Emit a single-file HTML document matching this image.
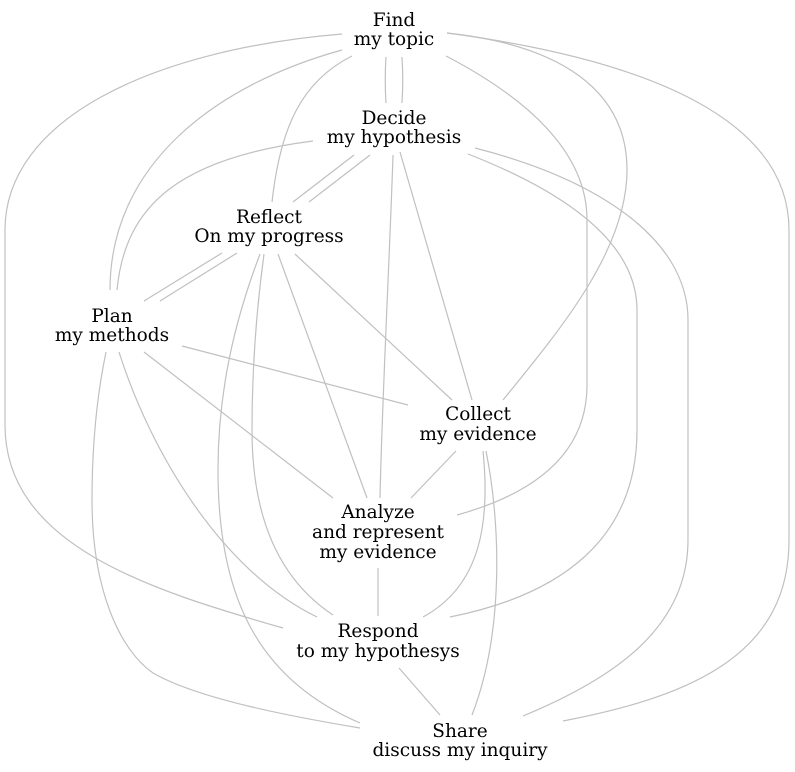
<!DOCTYPE html>
<html>
<head>
<meta charset="utf-8">
<style>
  html,body{margin:0;padding:0;background:#fff;}
  svg{display:block;}
  text{font-family:"DejaVu Serif","Liberation Serif",serif;font-size:18.5px;fill:#000;text-anchor:middle;}
  path{fill:none;stroke:#c0c0c0;stroke-width:1.2;}
</style>
</head>
<body>
<svg width="795" height="772" viewBox="0 0 795 772" xmlns="http://www.w3.org/2000/svg">
  <!-- Find edges -->
  <path d="M386,57 C385,72 385,88 386,103"/>
  <path d="M402,57 C403,72 403,88 402,103"/>
  <path d="M342,50 C215,85 110,165 110,290"/>
  <path d="M352,56 C300,82 280,130 272,202"/>
  <path d="M342,34 C150,50 5,120 5,230 L5,425 C5,545 150,590 283,628"/>
  <path d="M446,56 C540,105 587,160 587,220 L587,385 C587,450 540,492 457,515"/>
  <path d="M447,33 C560,45 627,90 627,170 C627,250 560,330 503,400"/>
  <path d="M447,33 C650,60 789,120 789,230 L789,540 C789,650 700,695 563,721"/>
  <!-- Decide edges -->
  <path d="M313,141 C180,158 125,205 117,290"/>
  <path d="M354,155 L293,202"/>
  <path d="M370,155 L309,202"/>
  <path d="M393,155 C390,250 382,400 380,498"/>
  <path d="M400,152 L472,400"/>
  <path d="M468,154 C560,190 637,240 637,310 L637,430 C637,540 560,595 450,617"/>
  <path d="M475,148 C600,180 688,240 688,320 L688,540 C688,630 610,680 523,716"/>
  <!-- Reflect edges -->
  <path d="M222,253 L144,301"/>
  <path d="M237,253 L160,301"/>
  <path d="M260,254 C235,320 218,390 218,470 C218,600 260,680 360,723"/>
  <path d="M264,254 C255,320 252,380 252,430 C252,520 280,580 333,615"/>
  <path d="M278,254 L367,498"/>
  <path d="M295,254 L452,400"/>
  <!-- Plan edges -->
  <path d="M182,346 L408,405"/>
  <path d="M144,352 L333,498"/>
  <path d="M119,352 C150,450 220,570 317,617"/>
  <path d="M106,352 C96,400 92,450 92,500 C92,590 120,650 153,673 C200,700 300,718 360,728"/>
  <!-- Collect edges -->
  <path d="M456,451 L411,498"/>
  <path d="M483,451 C490,520 482,585 423,617"/>
  <path d="M486,451 C500,520 505,630 472,715"/>
  <!-- Analyze / Respond -->
  <path d="M378,568 L378,616"/>
  <path d="M399,668 L440,715"/>

  <!-- Labels -->
  <text x="394" y="26">Find</text>
  <text x="394" y="45">my topic</text>

  <text x="394" y="124">Decide</text>
  <text x="394" y="143">my hypothesis</text>

  <text x="269" y="223">Reflect</text>
  <text x="269" y="242">On my progress</text>

  <text x="112" y="322">Plan</text>
  <text x="112" y="341">my methods</text>

  <text x="478" y="420">Collect</text>
  <text x="478" y="440">my evidence</text>

  <text x="378" y="518">Analyze</text>
  <text x="378" y="538">and represent</text>
  <text x="378" y="558">my evidence</text>

  <text x="378" y="637">Respond</text>
  <text x="378" y="657">to my hypothesys</text>

  <text x="460" y="737">Share</text>
  <text x="460" y="756">discuss my inquiry</text>
</svg>
</body>
</html>
